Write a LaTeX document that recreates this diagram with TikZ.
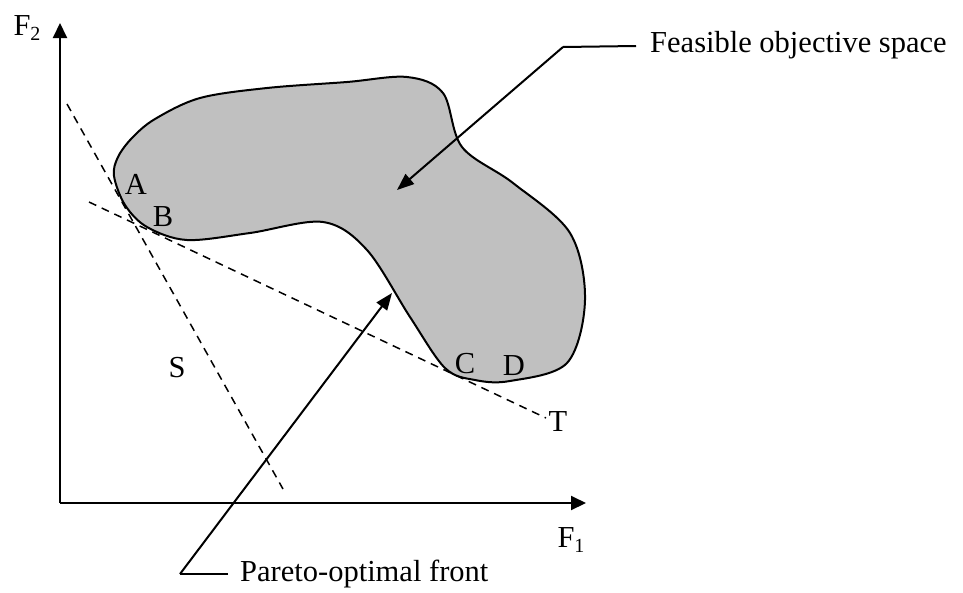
\documentclass[tikz,border=0pt]{standalone}
\usepackage{fontspec}
\setmainfont{Liberation Serif}
\usetikzlibrary{arrows.meta}
\definecolor{regiongray}{RGB}{192,192,192}
\begin{document}
\begin{tikzpicture}[x=1pt,y=-1pt,
  axisline/.style={line width=2pt,-{Triangle[length=15pt,width=14pt]}},
  leader/.style={line width=2pt,-{Triangle[length=17pt,width=13pt]}},
  leaderplain/.style={line width=2pt},
  tangentline/.style={line width=1.5pt,dash pattern=on 8pt off 6pt},
  lbl/.style={inner sep=0pt,font=\fontsize{30.5}{36}\selectfont}]
\useasboundingbox (0,0) rectangle (963,592);
% region
\draw[fill=regiongray, line width=2pt] plot[smooth cycle, tension=0.55] coordinates {
 (114,176) (118,157) (132,138) (155,119) (200,98) (267,88) (347,82) (407,77) (443,93) (462,147)
 (513,183) (570,233) (585,300) (567,363) (510,381) (475,380) (445,368) (410,317)
 (367,250) (323,222) (250,233) (187,240) (147,227) (125,205)};
% axes
\coordinate (O) at (60,503);
\coordinate (ytip) at (60,23);
\coordinate (xtip) at (586,503);
\draw[axisline] (O) -- (ytip);
\draw[axisline] (O) -- (xtip);
\newcommand{\subdigit}[1]{\raisebox{-0.3ex}{\fontsize{20}{20}\selectfont #1}}
\node[lbl] (F2) at (27,28) {F\subdigit{2}};
\node[lbl] (F1) at (571,540) {F\subdigit{1}};
% tangent lines
\coordinate (S1) at (67,104);
\coordinate (S2) at (283,489);
\coordinate (T1) at (89,202);
\coordinate (T2) at (546,418);
\draw[tangentline] (S1) -- (S2);
\draw[tangentline] (T1) -- (T2);
\node[lbl] (S) at (177,368) {S};
\node[lbl] (T) at (558,422) {T};
% points
\node[lbl] (A) at (136,184) {A};
\node[lbl] (B) at (163,217) {B};
\node[lbl] (C) at (465,364) {C};
\node[lbl] (D) at (514,366) {D};
% leaders
\node[lbl,anchor=west] (feas) at (650,45) {Feasible objective space};
\coordinate (feasend) at (636,46);
\coordinate (feascorner) at (563,47);
\coordinate (feastip) at (397,190);
\draw[leaderplain] (feasend) -- (feascorner);
\draw[leader] (feascorner) -- (feastip);
\node[lbl,anchor=west] (pareto) at (240,574) {Pareto-optimal front};
\coordinate (parend) at (228,574);
\coordinate (parcorner) at (180,574);
\coordinate (partip) at (392,293);
\draw[leaderplain] (parend) -- (parcorner);
\draw[leader] (parcorner) -- (partip);
\end{tikzpicture}
\end{document}
